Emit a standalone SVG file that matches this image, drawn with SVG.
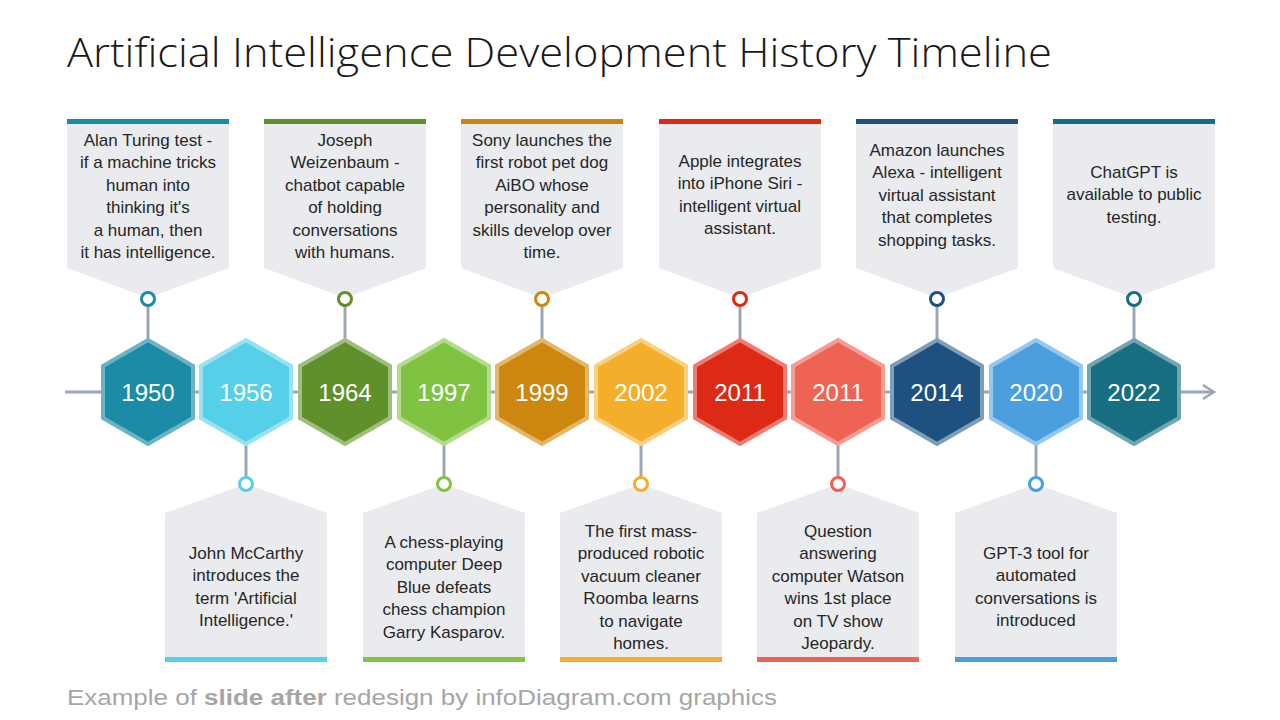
<svg xmlns="http://www.w3.org/2000/svg" width="1280" height="720" viewBox="0 0 1280 720">
<style>
.title{font-family:"Open Sans","Liberation Sans",sans-serif;font-weight:300;font-size:41px;fill:#1a1a1a}
.box{fill:#e9ebee}
.txt{font-family:"Liberation Sans",Arial,sans-serif;font-size:17px;fill:#262626;text-anchor:middle}
.yr{font-family:"Liberation Sans",Arial,sans-serif;font-size:24px;fill:#ffffff;text-anchor:middle}
.hex{stroke-width:4;stroke-linejoin:miter}
.dot{fill:#ffffff;stroke-width:3}
.stem{stroke:#9ba7b3;stroke-width:3}
.foot{font-family:"Liberation Sans",Arial,sans-serif;font-size:22px;fill:#a6a6a6}
</style>
<defs>
<path id="hx" d="M0 -52 L45 -26 L45 26 L0 52 L-45 26 L-45 -26 Z"/>
<path id="tc" d="M-81 124 H81 V268 L0 298 L-81 268 Z"/>
<path id="bc" d="M-81 657 V513 L0 484 L81 513 V657 Z"/>
</defs>
<rect width="1280" height="720" fill="#ffffff"/>
<text class="title" x="67" y="67" textLength="985" lengthAdjust="spacingAndGlyphs">Artificial Intelligence Development History Timeline</text>

<g id="connectors">
<line x1="65" y1="392" x2="1213" y2="392" stroke="#9ba7b3" stroke-width="3"/>
<path d="M1203 385 L1214 392 L1203 399" fill="none" stroke="#9ba7b3" stroke-width="2.5"/>
<line class="stem" x1="148" y1="305" x2="148" y2="340"/>
<line class="stem" x1="246" y1="444" x2="246" y2="478"/>
<line class="stem" x1="345" y1="305" x2="345" y2="340"/>
<line class="stem" x1="444" y1="444" x2="444" y2="478"/>
<line class="stem" x1="542" y1="305" x2="542" y2="340"/>
<line class="stem" x1="641" y1="444" x2="641" y2="478"/>
<line class="stem" x1="740" y1="305" x2="740" y2="340"/>
<line class="stem" x1="838" y1="444" x2="838" y2="478"/>
<line class="stem" x1="937" y1="305" x2="937" y2="340"/>
<line class="stem" x1="1036" y1="444" x2="1036" y2="478"/>
<line class="stem" x1="1134" y1="305" x2="1134" y2="340"/>
</g>

<g id="n1950">
<use href="#tc" x="148" class="box"/>
<rect x="67" y="119" width="162" height="5" fill="#1b8ba6"/>
<text class="txt" y="146"><tspan x="148">Alan Turing test -</tspan><tspan x="148" dy="22.4">if a machine tricks</tspan><tspan x="148" dy="22.4">human into</tspan><tspan x="148" dy="22.4">thinking it's</tspan><tspan x="148" dy="22.4">a human, then</tspan><tspan x="148" dy="22.4">it has intelligence.</tspan></text>
<circle class="dot" cx="148" cy="299" r="6.5" stroke="#1b8ba6"/>
<use href="#hx" x="148" y="392" class="hex" fill="#1b8ba6" stroke="#6db3c6"/>
<text class="yr" x="148" y="401">1950</text>
</g>

<g id="n1956">
<use href="#bc" x="246" class="box"/>
<rect x="165" y="657" width="162" height="5" fill="#56cfe8"/>
<text class="txt" y="559"><tspan x="246">John McCarthy</tspan><tspan x="246" dy="22.4">introduces the</tspan><tspan x="246" dy="22.4">term 'Artificial</tspan><tspan x="246" dy="22.4">Intelligence.'</tspan></text>
<circle class="dot" cx="246" cy="484" r="6.5" stroke="#56cfe8"/>
<use href="#hx" x="246" y="392" class="hex" fill="#56cfe8" stroke="#98e2f2"/>
<text class="yr" x="246" y="401">1956</text>
</g>

<g id="n1964">
<use href="#tc" x="345" class="box"/>
<rect x="264" y="119" width="162" height="5" fill="#5f902b"/>
<text class="txt" y="146"><tspan x="345">Joseph</tspan><tspan x="345" dy="22.4">Weizenbaum -</tspan><tspan x="345" dy="22.4">chatbot capable</tspan><tspan x="345" dy="22.4">of holding</tspan><tspan x="345" dy="22.4">conversations</tspan><tspan x="345" dy="22.4">with humans.</tspan></text>
<circle class="dot" cx="345" cy="299" r="6.5" stroke="#5f902b"/>
<use href="#hx" x="345" y="392" class="hex" fill="#5f902b" stroke="#a0be7c"/>
<text class="yr" x="345" y="401">1964</text>
</g>

<g id="n1997">
<use href="#bc" x="444" class="box"/>
<rect x="363" y="657" width="162" height="5" fill="#80c343"/>
<text class="txt" y="548"><tspan x="444">A chess-playing</tspan><tspan x="444" dy="22.4">computer Deep</tspan><tspan x="444" dy="22.4">Blue defeats</tspan><tspan x="444" dy="22.4">chess champion</tspan><tspan x="444" dy="22.4">Garry Kasparov.</tspan></text>
<circle class="dot" cx="444" cy="484" r="6.5" stroke="#80c343"/>
<use href="#hx" x="444" y="392" class="hex" fill="#80c343" stroke="#b3dc8e"/>
<text class="yr" x="444" y="401">1997</text>
</g>

<g id="n1999">
<use href="#tc" x="542" class="box"/>
<rect x="461" y="119" width="162" height="5" fill="#cd870f"/>
<text class="txt" y="146"><tspan x="542">Sony launches the</tspan><tspan x="542" dy="22.4">first robot pet dog</tspan><tspan x="542" dy="22.4">AiBO whose</tspan><tspan x="542" dy="22.4">personality and</tspan><tspan x="542" dy="22.4">skills develop over</tspan><tspan x="542" dy="22.4">time.</tspan></text>
<circle class="dot" cx="542" cy="299" r="6.5" stroke="#cd870f"/>
<use href="#hx" x="542" y="392" class="hex" fill="#cd870f" stroke="#e4b768"/>
<text class="yr" x="542" y="401">1999</text>
</g>

<g id="n2002">
<use href="#bc" x="641" class="box"/>
<rect x="560" y="657" width="162" height="5" fill="#f5ad2c"/>
<text class="txt" y="537"><tspan x="641">The first mass-</tspan><tspan x="641" dy="22.4">produced robotic</tspan><tspan x="641" dy="22.4">vacuum cleaner</tspan><tspan x="641" dy="22.4">Roomba learns</tspan><tspan x="641" dy="22.4">to navigate</tspan><tspan x="641" dy="22.4">homes.</tspan></text>
<circle class="dot" cx="641" cy="484" r="6.5" stroke="#f5ad2c"/>
<use href="#hx" x="641" y="392" class="hex" fill="#f5ad2c" stroke="#f9d080"/>
<text class="yr" x="641" y="401">2002</text>
</g>

<g id="n2011a">
<use href="#tc" x="740" class="box"/>
<rect x="659" y="119" width="162" height="5" fill="#dc2a17"/>
<text class="txt" y="167"><tspan x="740">Apple integrates</tspan><tspan x="740" dy="22.4">into iPhone Siri -</tspan><tspan x="740" dy="22.4">intelligent  virtual</tspan><tspan x="740" dy="22.4">assistant.</tspan></text>
<circle class="dot" cx="740" cy="299" r="6.5" stroke="#dc2a17"/>
<use href="#hx" x="740" y="392" class="hex" fill="#dc2a17" stroke="#ec7d70"/>
<text class="yr" x="740" y="401">2011</text>
</g>

<g id="n2011b">
<use href="#bc" x="838" class="box"/>
<rect x="757" y="657" width="162" height="5" fill="#ef6355"/>
<text class="txt" y="537"><tspan x="838">Question</tspan><tspan x="838" dy="22.4">answering</tspan><tspan x="838" dy="22.4">computer Watson</tspan><tspan x="838" dy="22.4">wins 1st place</tspan><tspan x="838" dy="22.4">on TV show</tspan><tspan x="838" dy="22.4">Jeopardy.</tspan></text>
<circle class="dot" cx="838" cy="484" r="6.5" stroke="#ef6355"/>
<use href="#hx" x="838" y="392" class="hex" fill="#ef6355" stroke="#f59d94"/>
<text class="yr" x="838" y="401">2011</text>
</g>

<g id="n2014">
<use href="#tc" x="937" class="box"/>
<rect x="856" y="119" width="162" height="5" fill="#1e517f"/>
<text class="txt" y="156"><tspan x="937">Amazon launches</tspan><tspan x="937" dy="22.4">Alexa - intelligent</tspan><tspan x="937" dy="22.4">virtual assistant</tspan><tspan x="937" dy="22.4">that completes</tspan><tspan x="937" dy="22.4">shopping tasks.</tspan></text>
<circle class="dot" cx="937" cy="299" r="6.5" stroke="#1e517f"/>
<use href="#hx" x="937" y="392" class="hex" fill="#1e517f" stroke="#7f9db9"/>
<text class="yr" x="937" y="401">2014</text>
</g>

<g id="n2020">
<use href="#bc" x="1036" class="box"/>
<rect x="955" y="657" width="162" height="5" fill="#4b9fdf"/>
<text class="txt" y="559"><tspan x="1036">GPT-3 tool for</tspan><tspan x="1036" dy="22.4">automated</tspan><tspan x="1036" dy="22.4">conversations is</tspan><tspan x="1036" dy="22.4">introduced</tspan></text>
<circle class="dot" cx="1036" cy="484" r="6.5" stroke="#4b9fdf"/>
<use href="#hx" x="1036" y="392" class="hex" fill="#4b9fdf" stroke="#95c8ef"/>
<text class="yr" x="1036" y="401">2020</text>
</g>

<g id="n2022">
<use href="#tc" x="1134" class="box"/>
<rect x="1053" y="119" width="162" height="5" fill="#166e80"/>
<text class="txt" y="178"><tspan x="1134">ChatGPT is</tspan><tspan x="1134" dy="22.4">available to public</tspan><tspan x="1134" dy="22.4">testing.</tspan></text>
<circle class="dot" cx="1134" cy="299" r="6.5" stroke="#166e80"/>
<use href="#hx" x="1134" y="392" class="hex" fill="#166e80" stroke="#70a6b2"/>
<text class="yr" x="1134" y="401">2022</text>
</g>

<text class="foot" x="67" y="705" textLength="710" lengthAdjust="spacingAndGlyphs">Example of <tspan font-weight="bold">slide after</tspan> redesign by infoDiagram.com graphics</text>
</svg>
